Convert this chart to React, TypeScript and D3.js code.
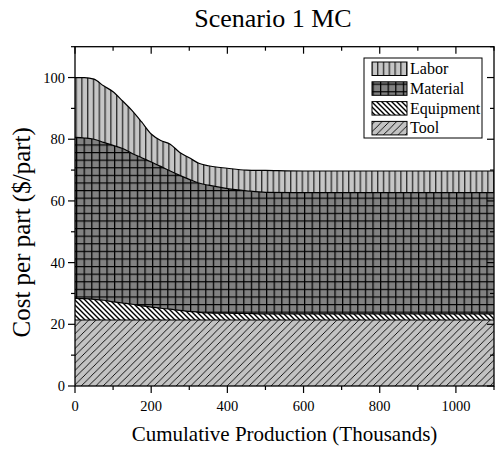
import React from "react";
import * as d3 from "d3";

const production = [0, 25, 50, 75, 100, 125, 150, 175, 200, 225, 250, 275, 300, 325, 350, 400, 450, 500, 600, 700, 800, 900, 1000, 1100];
const tool = [21.4, 21.4, 21.4, 21.4, 21.4, 21.4, 21.4, 21.4, 21.4, 21.4, 21.4, 21.4, 21.4, 21.4, 21.4, 21.4, 21.4, 21.4, 21.4, 21.4, 21.4, 21.4, 21.4, 21.4];
const equipment = [7.0, 6.9, 6.7, 6.4, 5.9, 5.5, 5.1, 4.6, 4.2, 3.8, 3.5, 3.1, 2.8, 2.5, 2.3, 2.2, 2.1, 2.0, 2.0, 2.0, 2.0, 2.0, 2.0, 2.0];
const material = [52.2, 52.1, 51.9, 51.2, 50.7, 50.1, 48.9, 48.0, 47.0, 46.0, 44.8, 43.8, 42.8, 41.9, 41.4, 40.4, 39.8, 39.4, 39.3, 39.3, 39.3, 39.3, 39.3, 39.3];
const labor = [19.4, 19.6, 19.5, 18.3, 17.4, 15.4, 13.9, 11.6, 9.1, 8.4, 8.7, 7.4, 7.0, 6.4, 6.3, 6.6, 6.7, 7.1, 7.0, 7.0, 7.0, 7.0, 7.0, 7.0];
const seriesNames = ["Tool", "Equipment", "Material", "Labor"];
const legendOrder = ["Labor", "Material", "Equipment", "Tool"];
const xTicks = [0, 200, 400, 600, 800, 1000];
const yTicks = [0, 20, 40, 60, 80, 100];

const W = 497, H = 452;
const M = { left: 75, right: 3, top: 46.7, bottom: 66 };
const FONT = '"Liberation Serif", "Times New Roman", Times, serif';
const tStyle = { fontFamily: FONT };

const patternIds: Record<string, string> = {
  Tool: "pat-tool",
  Equipment: "pat-equip",
  Material: "pat-mat",
  Labor: "pat-labor",
};

export default function App() {
  const x = d3.scaleLinear().domain([0, 1100]).range([M.left, W - M.right]);
  const y = d3.scaleLinear().domain([0, 110]).range([H - M.bottom, M.top]);

  const rows = production.map((p, i) => ({
    p,
    Tool: tool[i],
    Equipment: equipment[i],
    Material: material[i],
    Labor: labor[i],
  }));
  const stacked = d3.stack<any>().keys(seriesNames)(rows);
  const area = d3
    .area<any>()
    .x((d) => x(d.data.p))
    .y0((d) => y(d[0]))
    .y1((d) => y(d[1]))
    .curve(d3.curveMonotoneX);
  const topLine = d3
    .line<any>()
    .x((d) => x(d.data.p))
    .y((d) => y(d[1]))
    .curve(d3.curveMonotoneX);

  const x0 = x(0), x1 = x(1100), yb = y(0), yt = y(110);
  const minorX = d3.range(0, 1101, 100);
  const minorY = d3.range(0, 111, 10);

  const legendX = 364, legendY = 58, legendW = 118, legendH = 80;

  return (
    <svg width={W} height={H} style={{ position: "absolute", left: 0, top: 0, background: "#fff" }}>
      <defs>
        <pattern id="pat-tool" patternUnits="userSpaceOnUse" width={7.3} height={7.3}>
          <rect width={7.3} height={7.3} fill="#c3c3c3" />
          <path d="M-1,1 L1,-1 M0,7.3 L7.3,0 M6.3,8.3 L8.3,6.3" stroke="#000" strokeWidth={0.9} />
        </pattern>
        <pattern id="pat-equip" patternUnits="userSpaceOnUse" width={5} height={5}>
          <rect width={5} height={5} fill="#fff" />
          <path d="M-1,4 L1,6 M0,0 L5,5 M4,-1 L6,1" stroke="#000" strokeWidth={1.4} />
        </pattern>
        <pattern id="pat-mat" patternUnits="userSpaceOnUse" width={7.6} height={7.6}>
          <rect width={7.6} height={7.6} fill="#828282" />
          <path d="M0.6,0 L0.6,7.6 M0,0.6 L7.6,0.6" stroke="#000" strokeWidth={1.3} />
        </pattern>
        <pattern id="pat-labor" patternUnits="userSpaceOnUse" width={5.8} height={10}>
          <rect width={5.8} height={10} fill="#c6c6c6" />
          <path d="M0.7,0 L0.7,10" stroke="#2a2a2a" strokeWidth={1.3} />
        </pattern>
        <clipPath id="plot-clip">
          <rect x={x0} y={yt} width={x1 - x0} height={yb - yt} />
        </clipPath>
      </defs>

      <text x={273} y={27} textAnchor="middle" style={tStyle} fontSize={26} fill="#000">
        Scenario 1 MC
      </text>

      <g clipPath="url(#plot-clip)">
        {stacked.map((s) => (
          <path key={s.key} d={area(s) || ""} fill={`url(#${patternIds[s.key]})`} stroke="none" />
        ))}
        {stacked.map((s) => (
          <path key={s.key + "-l"} d={topLine(s) || ""} fill="none" stroke="#000" strokeWidth={1.2} />
        ))}
      </g>

      <rect x={x0} y={yt} width={x1 - x0} height={yb - yt} fill="none" stroke="#000" strokeWidth={1.3} />

      {minorX.map((v) => {
        const major = v % 200 === 0;
        const len = major ? 7 : 4;
        return (
          <g key={"xt" + v}>
            <line x1={x(v)} x2={x(v)} y1={yb} y2={yb + len} stroke="#000" strokeWidth={1.2} />
            <line x1={x(v)} x2={x(v)} y1={yt} y2={yt + len} stroke="#000" strokeWidth={1.2} />
          </g>
        );
      })}
      {xTicks.map((v) => (
        <text key={"xl" + v} x={x(v)} y={yb + 25} textAnchor="middle" style={tStyle} fontSize={14.5} fill="#000">
          {v}
        </text>
      ))}

      {minorY.map((v) => {
        const major = v % 20 === 0;
        const len = major ? 7 : 4;
        return (
          <g key={"yt" + v}>
            <line x1={x0 - len} x2={x0} y1={y(v)} y2={y(v)} stroke="#000" strokeWidth={1.2} />
            <line x1={x1 - len} x2={x1} y1={y(v)} y2={y(v)} stroke="#000" strokeWidth={1.2} />
          </g>
        );
      })}
      {yTicks.map((v) => (
        <text key={"yl" + v} x={x0 - 10} y={y(v) + 5} textAnchor="end" style={tStyle} fontSize={14.5} fill="#000">
          {v}
        </text>
      ))}

      <text
        transform={`translate(30, ${(yt + yb) / 2 + 16}) rotate(-90)`}
        textAnchor="middle"
        style={tStyle}
        fontSize={25}
        fill="#000"
      >
        Cost per part ($/part)
      </text>
      <text x={(x0 + x1) / 2} y={441} textAnchor="middle" style={tStyle} fontSize={21} fill="#000">
        Cumulative Production (Thousands)
      </text>

      <rect x={legendX} y={legendY} width={legendW} height={legendH} fill="#fff" stroke="#000" strokeWidth={1} />
      {legendOrder.map((name, i) => {
        const sy = 62 + i * 19.8;
        return (
          <g key={"lg" + name}>
            <rect x={372} y={sy} width={35} height={13.5} fill={`url(#${patternIds[name]})`} stroke="#000" strokeWidth={1} />
            <text x={410} y={sy + 12} style={tStyle} fontSize={16} fill="#000">
              {name}
            </text>
          </g>
        );
      })}
    </svg>
  );
}
